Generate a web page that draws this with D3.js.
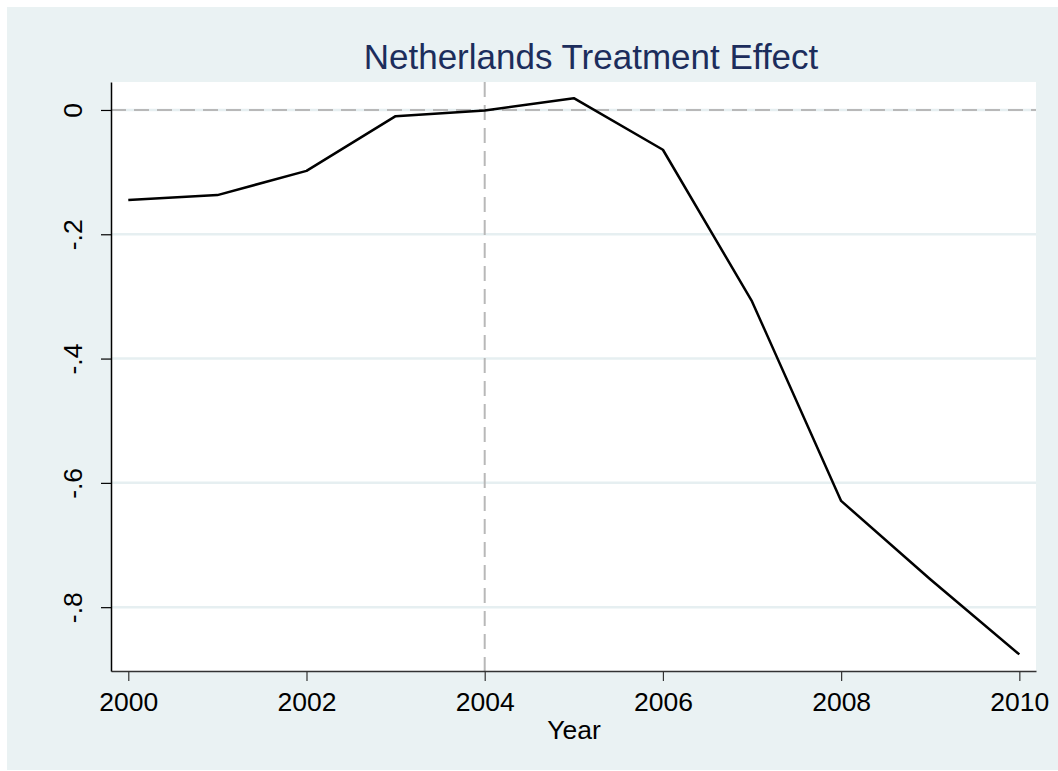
<!DOCTYPE html>
<html>
<head>
<meta charset="utf-8">
<script src="https://cdn.jsdelivr.net/npm/d3@7"></script>
<style>
  body { margin: 0; background: #ffffff; }
  text { font-family: "Liberation Sans", Arial, sans-serif; }
</style>
</head>
<body>
<script>
// Data
var years = [2000, 2001, 2002, 2003, 2004, 2005, 2006, 2007, 2008, 2009, 2010];
var effect = [-0.145, -0.137, -0.098, -0.010, -0.001, 0.019, -0.064, -0.308, -0.629, -0.755, -0.876];
var xTicks = [2000, 2002, 2004, 2006, 2008, 2010];
var yTicks = [0, -0.2, -0.4, -0.6, -0.8];
var yTickLabels = ["0", "-.2", "-.4", "-.6", "-.8"];
var treatYear = 2004;

var width = 1058, height = 771;

// plot region in pixels
var plotLeft = 111, plotRight = 1036, plotTop = 82, plotBottom = 671;

var svg = d3.select("body")
    .append("svg")
    .attr("width", width)
    .attr("height", height);

// graph region background
svg.append("rect")
    .attr("x", 7).attr("y", 7)
    .attr("width", width - 7).attr("height", height - 8)
    .attr("fill", "#eaf2f3");

svg.append("rect")
    .attr("x", plotLeft).attr("y", plotTop)
    .attr("width", plotRight - plotLeft).attr("height", plotBottom - plotTop)
    .attr("fill", "#ffffff");

var x = d3.scaleLinear()
    .domain([1999.806, 2010.187])
    .range([plotLeft, plotRight]);

var y = d3.scaleLinear()
    .domain([-0.9027, 0.045])
    .range([plotBottom, plotTop]);

// grid lines
svg.selectAll(".grid")
    .data(yTicks)
    .enter()
    .append("line")
    .attr("class", "grid")
    .attr("x1", plotLeft).attr("x2", plotRight)
    .attr("y1", function(d) { return y(d); })
    .attr("y2", function(d) { return y(d); })
    .attr("stroke", "#e6eff1")
    .attr("stroke-width", 2.5);

// reference lines
svg.append("line")
    .attr("x1", plotLeft).attr("x2", plotRight)
    .attr("y1", y(0)).attr("y2", y(0))
    .attr("stroke", "#b8b8b8")
    .attr("stroke-width", 2)
    .attr("stroke-dasharray", "15,8");

svg.append("line")
    .attr("x1", x(treatYear)).attr("x2", x(treatYear))
    .attr("y1", plotTop).attr("y2", plotBottom)
    .attr("stroke", "#b8b8b8")
    .attr("stroke-width", 2)
    .attr("stroke-dasharray", "15,8");

// the series
var line = d3.line()
    .x(function(d, i) { return x(years[i]); })
    .y(function(d) { return y(d); });

svg.append("path")
    .datum(effect)
    .attr("d", line)
    .attr("fill", "none")
    .attr("stroke", "#000000")
    .attr("stroke-width", 2.5)
    .attr("stroke-linejoin", "round");

// x axis
var xAxis = svg.append("g")
    .attr("transform", "translate(0," + plotBottom + ")")
    .call(d3.axisBottom(x)
        .tickValues(xTicks)
        .tickFormat(d3.format("d"))
        .tickSize(10)
        .tickSizeOuter(0)
        .tickPadding(11));

xAxis.select(".domain")
    .attr("stroke", "#333333")
    .attr("stroke-width", 1.5);
xAxis.selectAll(".tick line").attr("stroke", "#333333").attr("stroke-width", 1.2);
xAxis.selectAll(".tick text")
    .attr("font-size", 26.5)
    .attr("fill", "#000000")
    .attr("font-family", "Liberation Sans, Arial, sans-serif");

// y axis
var yAxis = svg.append("g")
    .attr("transform", "translate(" + plotLeft + ",0)")
    .call(d3.axisLeft(y)
        .tickValues(yTicks)
        .tickFormat(function(d, i) { return yTickLabels[i]; })
        .tickSize(10)
        .tickSizeOuter(0));

yAxis.select(".domain")
    .attr("stroke", "#000000")
    .attr("stroke-width", 1.5);
yAxis.selectAll(".tick line").attr("stroke", "#000000").attr("stroke-width", 1.2);
yAxis.selectAll(".tick text")
    .attr("font-size", 26.5)
    .attr("fill", "#000000")
    .attr("font-family", "Liberation Sans, Arial, sans-serif")
    .attr("x", null)
    .attr("dy", null)
    .attr("text-anchor", "middle")
    .attr("transform", "translate(-29,0) rotate(-90)");

// axis title
svg.append("text")
    .attr("x", 574)
    .attr("y", 739)
    .attr("text-anchor", "middle")
    .attr("font-size", 26.5)
    .attr("fill", "#000000")
    .text("Year");

// chart title
svg.append("text")
    .attr("x", 591)
    .attr("y", 69)
    .attr("text-anchor", "middle")
    .attr("font-size", 35)
    .attr("fill", "#1c2d5c")
    .text("Netherlands Treatment Effect");
</script>
</body>
</html>
